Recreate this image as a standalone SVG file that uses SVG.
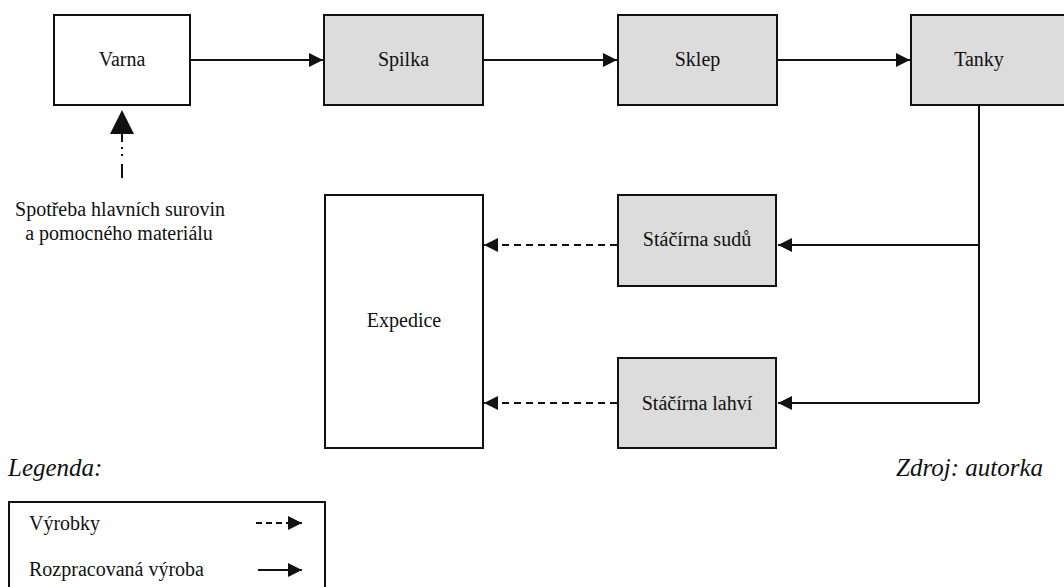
<svg xmlns="http://www.w3.org/2000/svg" width="1064" height="587" viewBox="0 0 1064 587">
<style>
.box{fill:#fff;stroke:#111;stroke-width:2}
.g{fill:#dcdcdc}
.ln{fill:none;stroke:#111;stroke-width:2}
.ds{stroke-dasharray:7 5}
</style>
<defs>
<marker id="ah" markerWidth="14" markerHeight="14" viewBox="0 0 14 14" refX="14" refY="7" orient="auto" markerUnits="userSpaceOnUse">
<path d="M0,0 L14,7 L0,14 Z" fill="#111"/>
</marker>
</defs>
<rect width="1064" height="587" fill="#fff"/>
<g id="connectors">
<line class="ln" x1="191" y1="60" x2="323" y2="60" marker-end="url(#ah)"/>
<line class="ln" x1="484" y1="60" x2="617" y2="60" marker-end="url(#ah)"/>
<line class="ln" x1="778" y1="60" x2="910" y2="60" marker-end="url(#ah)"/>
<polyline class="ln" points="979,106 979,403"/>
<line class="ln" x1="979" y1="245" x2="778" y2="245" marker-end="url(#ah)"/>
<line class="ln" x1="979" y1="403" x2="778" y2="403" marker-end="url(#ah)"/>
<line class="ln ds" x1="617" y1="245" x2="484" y2="245" marker-end="url(#ah)"/>
<line class="ln ds" x1="617" y1="403" x2="484" y2="403" marker-end="url(#ah)"/>
<line class="ln" x1="122" y1="134" x2="122" y2="178" stroke-dasharray="8 5 2 5 2 8 14"/>
<path d="M122,110 L110,134 L134,134 Z" fill="#111"/>
</g>
<g font-family="Liberation Serif" font-size="20" fill="#111">
<g id="varna"><rect class="box" x="54" y="15" width="136" height="90"/><text x="122" y="66" text-anchor="middle">Varna</text></g>
<g id="spilka"><rect class="box g" x="324" y="15" width="159" height="90"/><text x="403.5" y="66" text-anchor="middle">Spilka</text></g>
<g id="sklep"><rect class="box g" x="618" y="15" width="159" height="90"/><text x="697.5" y="66" text-anchor="middle">Sklep</text></g>
<g id="tanky"><rect class="box g" x="911" y="15" width="159" height="90"/><text x="979" y="66" text-anchor="middle">Tanky</text></g>
<g id="staciarna-sudu"><rect class="box g" x="618" y="195" width="158" height="91"/><text x="697" y="246" text-anchor="middle">Stáčírna sudů</text></g>
<g id="staciarna-lahvi"><rect class="box g" x="618" y="358" width="158" height="90"/><text x="697" y="410" text-anchor="middle">Stáčírna lahví</text></g>
<g id="expedice"><rect class="box" x="325" y="195" width="158" height="253"/><text x="404" y="327" text-anchor="middle">Expedice</text></g>
<g id="suroviny" text-anchor="middle">
<text x="120" y="216">Spotřeba hlavních surovin</text>
<text x="119" y="240">a pomocného materiálu</text>
</g>
<g id="legenda">
<text x="8" y="476" font-style="italic" font-size="25">Legenda:</text>
<rect class="box" x="9" y="502" width="316" height="100"/>
<text x="29" y="530">Výrobky</text>
<text x="29" y="576">Rozpracovaná výroba</text>
<line class="ln" x1="256" y1="523" x2="302" y2="523" stroke-dasharray="6 4" marker-end="url(#ah)"/>
<line class="ln" x1="258" y1="570" x2="302" y2="570" marker-end="url(#ah)"/>
</g>
<g id="zdroj"><text x="1043" y="476" font-style="italic" font-size="25" text-anchor="end">Zdroj: autorka</text></g>
</g>
</svg>
